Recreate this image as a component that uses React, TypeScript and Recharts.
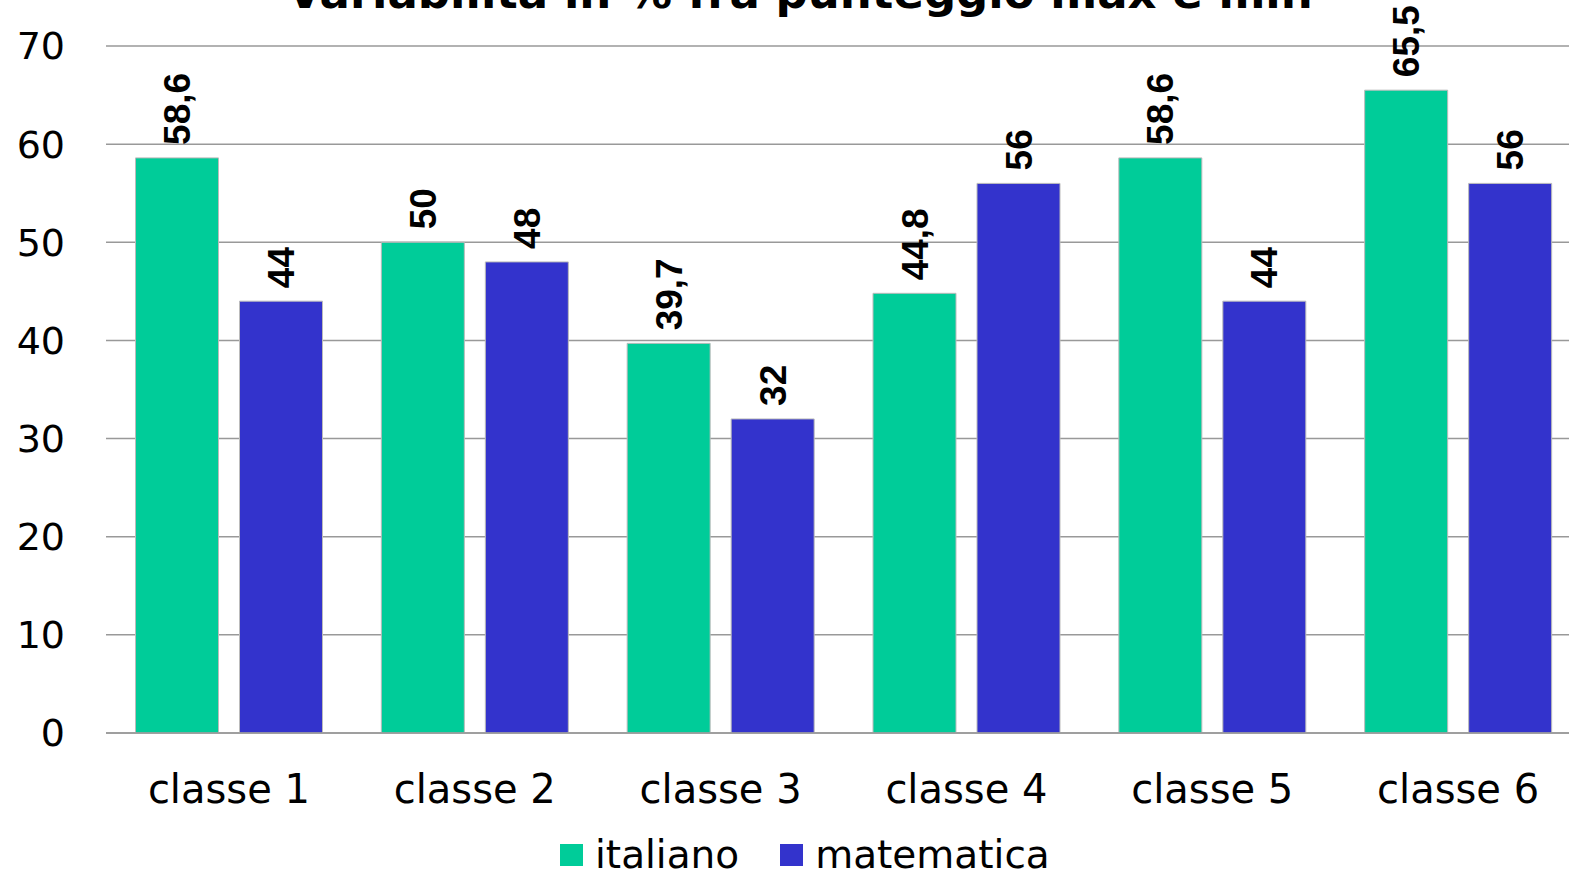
import React from "react";
import { BarChart, Bar, XAxis, YAxis, CartesianGrid, Legend, LabelList } from "recharts";

const categories = ["classe 1", "classe 2", "classe 3", "classe 4", "classe 5", "classe 6"];
const italiano = [58.6, 50, 39.7, 44.8, 58.6, 65.5];
const matematica = [44, 48, 32, 56, 44, 56];
const yTicks = [0, 10, 20, 30, 40, 50, 60, 70];
const seriesNames = ["italiano", "matematica"];
const seriesColors = ["#00CC99", "#3333CC"];
const title = "Variabilità in % fra punteggio max e min";

const data = categories.map((c, i) => ({ name: c, italiano: italiano[i], matematica: matematica[i] }));

const fmt = (v: number) => String(v).replace(".", ",");

const BarLabel = (props: any) => {
  const { x, y, width, value } = props;
  const cx = Number(x) + Number(width) / 2 + 13;
  const cy = Number(y) - 13;
  return (
    <text
      transform={`translate(${cx}, ${cy}) rotate(-90)`}
      textAnchor="start"
      fontFamily="Liberation Sans, Arial, sans-serif"
      fontWeight="bold"
      fontSize={37}
      fill="#000"
    >
      {fmt(value)}
    </text>
  );
};

const LegendContent = () => (
  <div
    style={{
      display: "flex",
      justifyContent: "flex-start",
      alignItems: "center",
      height: 40,
      paddingLeft: 560,
      fontFamily: "DejaVu Sans, sans-serif",
      fontSize: 39,
      color: "#000",
    }}
  >
    {seriesNames.map((n, i) => (
      <div key={n} style={{ display: "flex", alignItems: "center", marginLeft: i ? 41 : 0 }}>
        <div style={{ width: 23, height: 22, background: seriesColors[i], marginRight: 12 }} />
        <span style={{ lineHeight: "40px" }}>{n}</span>
      </div>
    ))}
  </div>
);

export default function App() {
  return (
    <div style={{ position: "relative", width: 1569, height: 876, overflow: "hidden", background: "#fff" }}>
      <style>{`body{margin:0;}`}</style>
      <div
        style={{
          position: "absolute",
          top: -30,
          left: 0,
          width: 1600,
          textAlign: "center",
          fontFamily: "DejaVu Sans, sans-serif",
          fontWeight: "bold",
          fontSize: 45,
          lineHeight: "45px",
          color: "#000",
          whiteSpace: "nowrap",
        }}
      >
        {title}
      </div>
      <BarChart
        width={1581}
        height={876}
        data={data}
        margin={{ top: 46, right: 0, left: 0, bottom: 40 }}
        barCategoryGap="12%"
        barGap={21}
      >
        <CartesianGrid vertical={false} stroke="#999" strokeWidth={1.5} />
        <XAxis
          dataKey="name"
          height={63}
          axisLine={{ stroke: "#999", strokeWidth: 1.5 }}
          tickLine={false}
          tickSize={0}
          tickMargin={42}
          interval={0}
          tick={{ fontFamily: "DejaVu Sans, sans-serif", fontSize: 40, fill: "#000" }}
        />
        <YAxis
          width={106}
          domain={[0, 70]}
          ticks={yTicks}
          axisLine={false}
          tickLine={false}
          tickSize={0}
          tickMargin={41}
          interval={0}
          tick={{ fontFamily: "DejaVu Sans, sans-serif", fontSize: 38, fill: "#000" }}
        />
        <Legend
          verticalAlign="bottom"
          content={<LegendContent />}
          wrapperStyle={{ bottom: 1, left: 0, width: 1581, height: 40 }}
        />
        <Bar dataKey="italiano" name="italiano" fill={seriesColors[0]} stroke="#bbb" strokeWidth={1} isAnimationActive={false}>
          <LabelList dataKey="italiano" content={<BarLabel />} />
        </Bar>
        <Bar dataKey="matematica" name="matematica" fill={seriesColors[1]} stroke="#bbb" strokeWidth={1} isAnimationActive={false}>
          <LabelList dataKey="matematica" content={<BarLabel />} />
        </Bar>
      </BarChart>
    </div>
  );
}
